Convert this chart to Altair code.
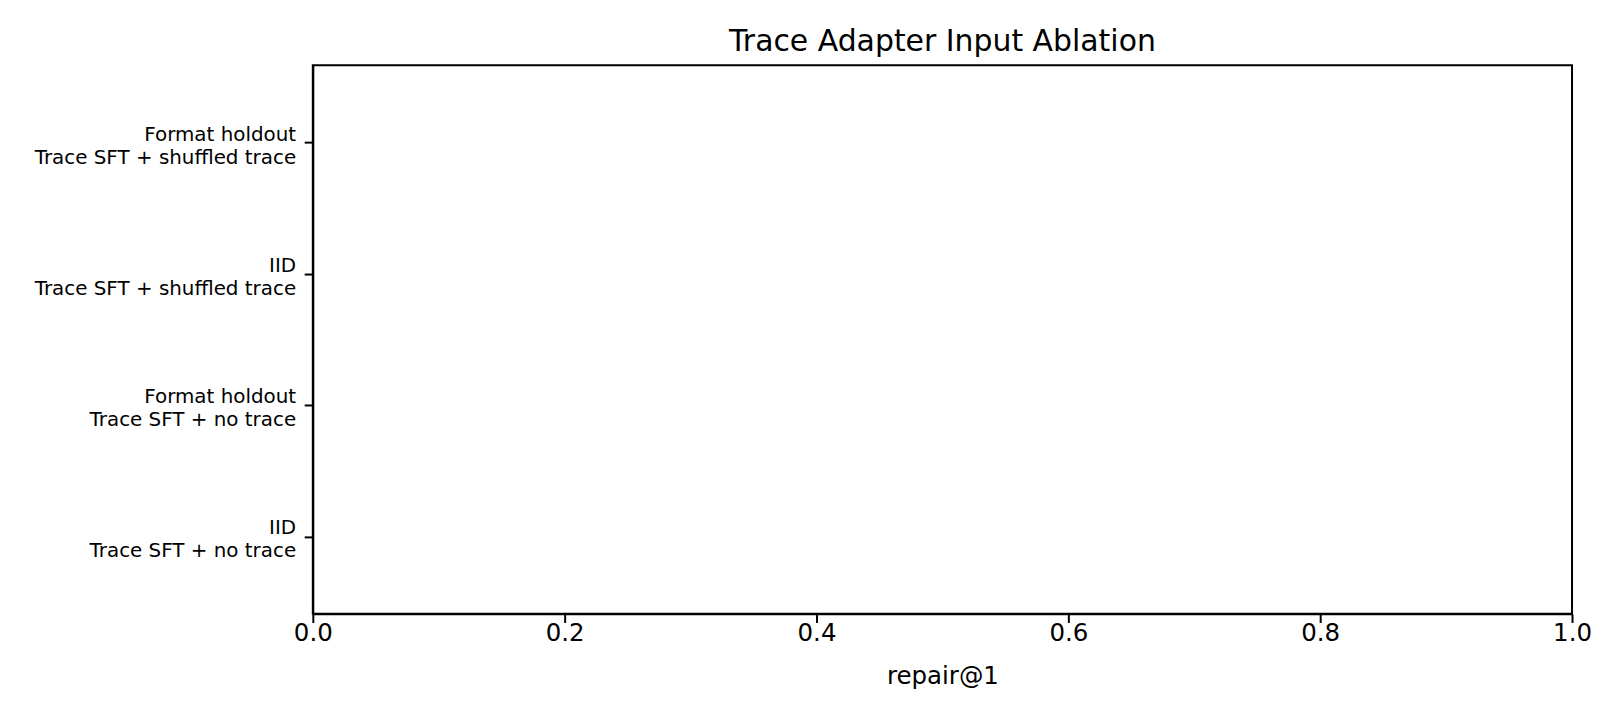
import json
import altair as alt
import pandas as pd

# Data (all bars are at 0)
splits = ["IID", "Format holdout", "IID", "Format holdout"]
conditions = [
    "Trace SFT + no trace",
    "Trace SFT + no trace",
    "Trace SFT + shuffled trace",
    "Trace SFT + shuffled trace",
]
repair_at_1 = [0.0, 0.0, 0.0, 0.0]
x_ticks = [0.0, 0.2, 0.4, 0.6, 0.8, 1.0]

positions = list(range(len(splits)))
labels = [f"{s}|{c}" for s, c in zip(splits, conditions)]

df = pd.DataFrame({"pos": positions, "label": labels, "repair": repair_at_1})

label_expr = "split(" + json.dumps(labels) + "[round(datum.value)], '|')"

FONT = "DejaVu Sans"

chart = (
    alt.Chart(df)
    .mark_bar(color="#1f77b4", size=105, orient="horizontal")
    .encode(
        x=alt.X(
            "repair:Q",
            scale=alt.Scale(domain=[0, 1], nice=False, zero=True, padding=0),
            axis=alt.Axis(
                title="repair@1",
                values=x_ticks,
                format=".1f",
                grid=False,
                labelFontSize=24.5,
                titleFontSize=24.5,
                titleFontWeight="normal",
                titlePadding=20,
                tickSize=8.6,
                tickWidth=2,
                tickColor="black",
                domainColor="black",
                domainWidth=2,
                labelPadding=-1,
                labelColor="black",
                titleColor="black",
                labelFlush=False,
            ),
        ),
        y=alt.Y(
            "pos:Q",
            scale=alt.Scale(domain=[-0.59, 3.59], nice=False, zero=False, padding=0),
            axis=alt.Axis(
                title=None,
                values=positions,
                labelExpr=label_expr,
                grid=False,
                labelFontSize=19.9,
                labelLineHeight=23,
                labelBaseline="middle",
                labelAlign="right",
                labelLimit=600,
                labelOffset=-8.5,
                tickSize=8.6,
                tickWidth=2,
                tickColor="black",
                domainColor="black",
                domainWidth=2,
                labelPadding=8.6,
                labelColor="black",
                labelFlush=False,
                labelOverlap=False,
            ),
        ),
    )
    .properties(
        width=1260,
        height=549,
        title=alt.TitleParams(
            "Trace Adapter Input Ablation",
            fontSize=29.9,
            fontWeight="normal",
            font=FONT,
            color="black",
            anchor="middle",
            baseline="alphabetic",
            offset=-16,
        ),
        autosize=alt.AutoSizeParams(type="none"),
        padding={"left": 305, "top": 57, "right": 40, "bottom": 90},
    )
    .configure(font=FONT)
    .configure_axis(labelFont=FONT, titleFont=FONT)
    .configure_view(stroke="black", strokeWidth=2)
)

chart.save("out.html", embed_options={"renderer": "svg", "actions": False})
